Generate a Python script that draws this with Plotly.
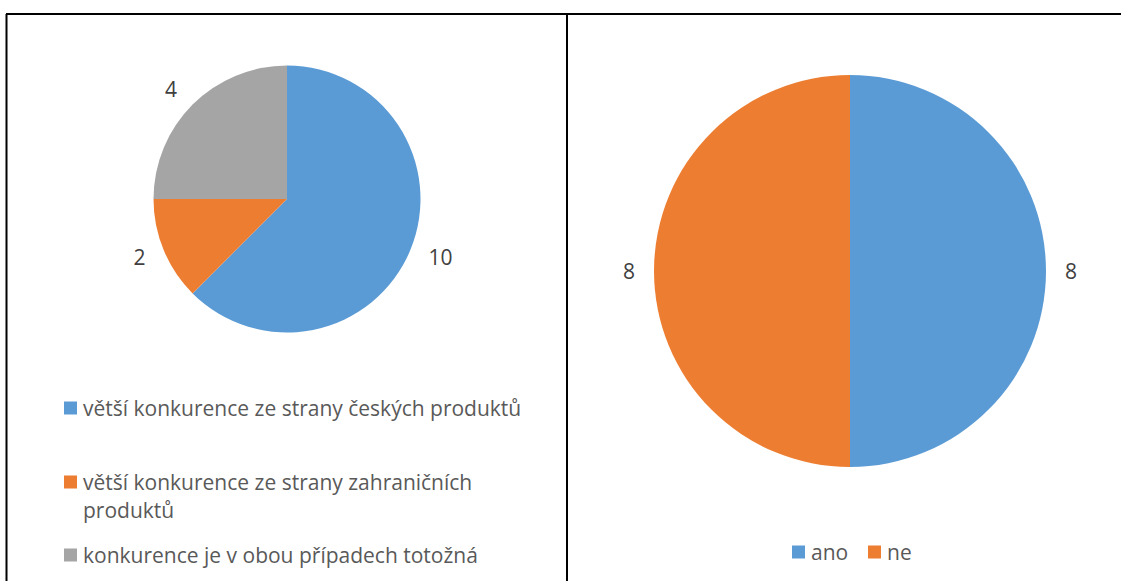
import textwrap
import plotly.graph_objects as go

W, H = 1121, 581

# ---- data ----
left_labels = [
    "větší konkurence ze strany českých produktů",
    "větší konkurence ze strany zahraničních produktů",
    "konkurence je v obou případech totožná",
]
left_values = [10, 2, 4]
right_labels = ["ano", "ne"]
right_values = [8, 8]

colors_left = ["#5B9BD5", "#ED7D31", "#A5A5A5"]
colors_right = ["#5B9BD5", "#ED7D31"]

FONT = "Open Sans"
LABEL_PAD = 12  # extra distance of the value labels from the pie edge


def px(x):
    return x / W


def py(y):
    return 1 - y / H


def domain(cx, cy, r):
    return dict(x=[px(cx - r), px(cx + r)], y=[py(cy + r), py(cy - r)])


fig = go.Figure()

pies = [
    (left_labels, left_values, colors_left, (287, 199, 133.5)),
    (right_labels, right_values, colors_right, (850, 271, 196)),
]

for labels, values, cols, (cx, cy, r) in pies:
    # value labels (transparent, slightly larger ring so labels sit further out)
    fig.add_trace(go.Pie(
        labels=labels, values=values, sort=False, direction="clockwise", rotation=0,
        marker=dict(colors=["rgba(0,0,0,0)"] * len(values), line=dict(width=0)),
        textinfo="value", textposition="outside",
        outsidetextfont=dict(family=FONT, size=21, color="#404040"),
        domain=domain(cx, cy, r + LABEL_PAD),
        showlegend=False, hoverinfo="skip",
    ))
    # visible pie
    fig.add_trace(go.Pie(
        labels=labels, values=values, sort=False, direction="clockwise", rotation=0,
        marker=dict(colors=cols, line=dict(width=0)),
        textinfo="none",
        domain=domain(cx, cy, r),
        showlegend=False, hoverinfo="label+value",
    ))

shapes = []
annotations = []

# borders
for (x0, y0, x1, y1) in [(6, 14, 1121, 14), (6.5, 14, 6.5, 581), (567, 14, 567, 581)]:
    shapes.append(dict(type="line", xref="paper", yref="paper",
                       x0=px(x0), y0=py(y0), x1=px(x1), y1=py(y1),
                       line=dict(color="black", width=2)))

# left legend (vertical)
leg_y = [408, 482, 555]
for lab, col, yc in zip(left_labels, colors_left, leg_y):
    shapes.append(dict(type="rect", xref="paper", yref="paper",
                       x0=px(64), x1=px(77), y0=py(yc - 6.5), y1=py(yc + 6.5),
                       fillcolor=col, line=dict(width=0)))
    for i, line in enumerate(textwrap.wrap(lab, 43)):
        annotations.append(dict(xref="paper", yref="paper", x=px(81), y=py(yc + 28 * i),
                                xanchor="left", yanchor="middle", showarrow=False,
                                text=line, font=dict(family=FONT, size=21, color="#595959")))

# right legend (horizontal)
for lab, col, xs in zip(right_labels, colors_right, [792, 868]):
    yc = 552
    shapes.append(dict(type="rect", xref="paper", yref="paper",
                       x0=px(xs), x1=px(xs + 13), y0=py(yc - 6.5), y1=py(yc + 6.5),
                       fillcolor=col, line=dict(width=0)))
    annotations.append(dict(xref="paper", yref="paper", x=px(xs + 17), y=py(yc),
                            xanchor="left", yanchor="middle", showarrow=False,
                            text=lab, font=dict(family=FONT, size=21, color="#595959")))

fig.update_layout(
    width=W, height=H, margin=dict(l=0, r=0, t=0, b=0),
    paper_bgcolor="white", plot_bgcolor="white",
    shapes=shapes, annotations=annotations,
    font=dict(family=FONT),
)

fig.write_html("out.html",
               config={"displayModeBar": False},
               post_script="document.body.style.margin='0';document.body.style.overflow='hidden';")
